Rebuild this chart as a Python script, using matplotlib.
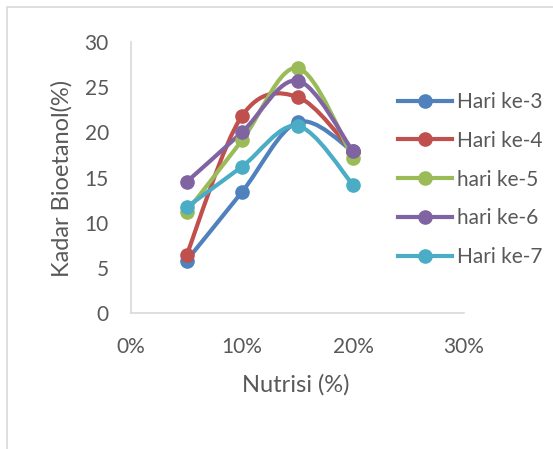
import matplotlib
matplotlib.use('Agg')
from matplotlib import pyplot as plt
from matplotlib.path import Path
from matplotlib.patches import PathPatch, Rectangle
from matplotlib.lines import Line2D
from matplotlib.ticker import FuncFormatter

plt.rcParams['font.family'] = ['Lato', 'DejaVu Sans']

nutrisi = [0.05, 0.10, 0.15, 0.20]
hari_3 = [5.8, 13.4, 21.1, 17.9]
hari_4 = [6.4, 21.8, 23.9, 17.8]
hari_5 = [11.2, 19.1, 27.1, 17.2]
hari_6 = [14.5, 20.0, 25.7, 17.9]
hari_7 = [11.7, 16.2, 20.7, 14.2]

labels = ['Hari ke-3', 'Hari ke-4', 'hari ke-5', 'hari ke-6', 'Hari ke-7']
colors = ['#4F81BD', '#C0504D', '#9BBB59', '#8064A2', '#4BACC6']
series = [hari_3, hari_4, hari_5, hari_6, hari_7]

TEXT = '#595959'
GRID = '#D9D9D9'
W, H = 553, 449


def smooth_path(xs, ys, tension=1 / 6):
    # Excel-style smoothed line: Bezier segments with Catmull-Rom control points
    pts = list(zip(xs, ys))
    verts = [pts[0]]
    codes = [Path.MOVETO]
    n = len(pts)
    for i in range(n - 1):
        p0 = pts[i - 1] if i > 0 else pts[i]
        p1 = pts[i]
        p2 = pts[i + 1]
        p3 = pts[i + 2] if i + 2 < n else pts[i + 1]
        c1 = (p1[0] + (p2[0] - p0[0]) * tension, p1[1] + (p2[1] - p0[1]) * tension)
        c2 = (p2[0] - (p3[0] - p1[0]) * tension, p2[1] - (p3[1] - p1[1]) * tension)
        verts += [c1, c2, p2]
        codes += [Path.CURVE4] * 3
    return Path(verts, codes)


fig = plt.figure(figsize=(W / 100, H / 100), dpi=100)
fig.patches.append(Rectangle((7 / W, -0.1), 1.2, 1 - 7 / H + 0.1,
                             transform=fig.transFigure, fill=False,
                             edgecolor=GRID, linewidth=1.2))
ax = fig.add_axes([131 / W, (H - 313.3) / H, 333 / W, 271.6 / H])

handles = []
for ys, color, label in zip(series, colors, labels):
    patch = PathPatch(smooth_path(nutrisi, ys), facecolor='none',
                      edgecolor=color, linewidth=3.0, capstyle='round',
                      joinstyle='round')
    ax.add_patch(patch)
    ax.plot(nutrisi, ys, linestyle='none', marker='o', markersize=9.5,
            color=color)
    handles.append(Line2D([], [], color=color, linewidth=3.0, marker='o',
                          markersize=9.5, label=label))

ax.set_xlim(0, 0.30)
ax.set_ylim(0, 30)
ax.set_xticks([0, 0.10, 0.20, 0.30])
ax.set_yticks(range(0, 31, 5))
ax.xaxis.set_major_formatter(FuncFormatter(lambda v, p: '{:.0f}%'.format(v * 100)))

for side in ['top', 'right']:
    ax.spines[side].set_visible(False)
for side in ['left', 'bottom']:
    ax.spines[side].set_color(GRID)
    ax.spines[side].set_linewidth(1.2)

ax.tick_params(length=0, labelsize=15, colors=TEXT)
ax.tick_params(axis='x', pad=17)
ax.tick_params(axis='y', pad=16)

ax.set_xlabel('Nutrisi (%)', fontsize=17, color=TEXT)
ax.set_ylabel('Kadar Bioetanol(%)', fontsize=17, color=TEXT)
ax.xaxis.set_label_coords(295.5 / W, (H - 385) / H, transform=fig.transFigure)
ax.yaxis.set_label_coords(62 / W, (H - 178) / H, transform=fig.transFigure)
ax.xaxis.label.set_va('center')
ax.yaxis.label.set_va('center')

leg = fig.legend(handles=handles, loc='upper left',
                 bbox_to_anchor=(398 / W, 1 - 92 / H),
                 frameon=False, fontsize=15, labelcolor=TEXT,
                 handlelength=2.6, handletextpad=0.24, labelspacing=0.9,
                 borderpad=0, borderaxespad=0)

fig.savefig('out.png', dpi=100)
